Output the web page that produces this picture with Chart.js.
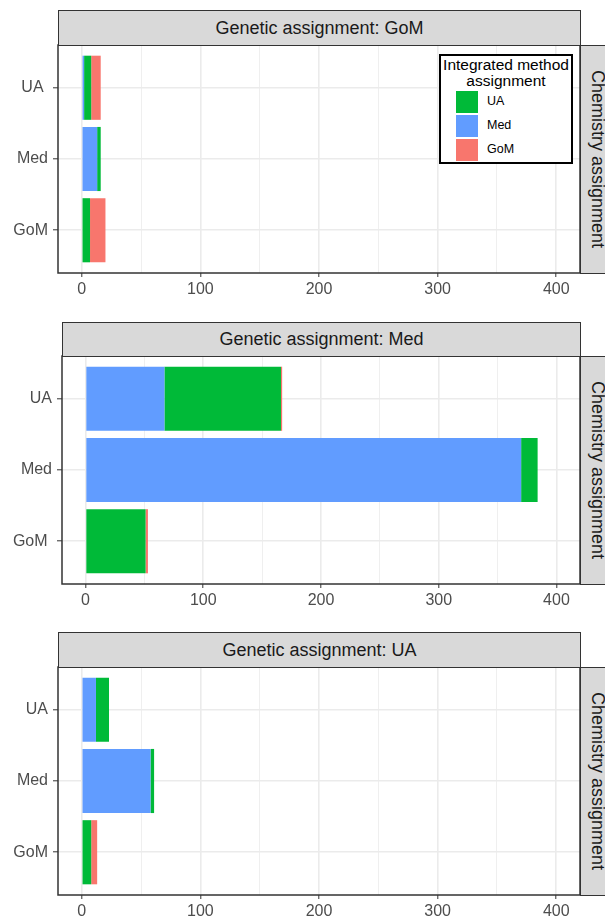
<!DOCTYPE html>
<html>
<head>
<meta charset="utf-8">
<script src="https://cdn.jsdelivr.net/npm/chart.js@4.4.1/dist/chart.umd.min.js"></script>
<style>
  html, body { margin: 0; padding: 0; background: #fff; width: 605px; height: 919px; overflow: hidden; }
  body { position: relative; font-family: "Liberation Sans", Arial, sans-serif; }
  canvas { position: absolute; left: 0; z-index: 1; }
  .strip { position: absolute; box-sizing: border-box; background: #d9d9d9; border: 1px solid #333;
           display: flex; align-items: center; justify-content: center; font-size: 18px; color: #1a1a1a;
           z-index: 2; white-space: nowrap; overflow: hidden; }
  .strip.side span { writing-mode: vertical-rl; }
  .legend { position: absolute; left: 439px; top: 54px; width: 134px; height: 110px; box-sizing: border-box;
            border: 2px solid #000; background: #fff; z-index: 3; }
  .legend .title { position: absolute; left: 0; right: 0; top: 1px; text-align: center; font-size: 15.5px;
                   line-height: 16px; color: #000; }
  .legend .key { position: absolute; left: 15px; width: 22px; height: 21.5px; }
  .legend .lab { position: absolute; left: 46px; font-size: 12.5px; line-height: 21.5px; color: #000; }
</style>
</head>
<body>
<div class="legend" id="legend"><div class="title">Integrated method<br>assignment</div></div>
<script>
// Chemistry assignment categories (rows, top to bottom)
const chemCategories = ['UA', 'Med', 'GoM'];
// Row labels as printed on each panel's axis
const gomPanelLabels = ['UA ', 'Med', 'GoM'];
const medPanelLabels = ['UA', 'Med', 'GoM '];
const uaPanelLabels  = ['UA', 'Med', 'GoM'];

// Integrated method assignment groups, legend order
const integratedGroups = ['UA', 'Med', 'GoM'];
// Stacking order from zero outwards
const stackOrder = ['Med', 'UA', 'GoM'];

// Genetic assignment: GoM  (counts per chemistry row UA, Med, GoM)
const gomPanelMed = [2, 13, 0];
const gomPanelUA  = [6, 3, 7];
const gomPanelGoM = [8, 0, 13];

// Genetic assignment: Med
const medPanelMed = [67, 370, 0];
const medPanelUA  = [99, 14, 51];
const medPanelGoM = [1, 0, 2];

// Genetic assignment: UA
const uaPanelMed = [12, 58, 0];
const uaPanelUA  = [11, 3, 8];
const uaPanelGoM = [0, 0, 5];

// Count axis
const xMajorTicks = [0, 100, 200, 300, 400];
const xMinorGrid  = [50, 150, 250, 350];
const xLimits = [-20, 420];

const COLORS = { UA: '#00BA38', Med: '#619CFF', GoM: '#F8766D' };
const FONT = '"Liberation Sans", Arial, sans-serif';
const W = 605, PAD_TOP = 20, AXIS_H = 34, SIDE_STRIP_W = 34;

const panels = [
  { title: 'Genetic assignment: GoM', labels: gomPanelLabels,
    series: { Med: gomPanelMed, UA: gomPanelUA, GoM: gomPanelGoM },
    stripTop: 10, plotTop: 45, plotBottom: 273, plotLeft: 58, plotRight: 580 },
  { title: 'Genetic assignment: Med', labels: medPanelLabels,
    series: { Med: medPanelMed, UA: medPanelUA, GoM: medPanelGoM },
    stripTop: 322, plotTop: 356, plotBottom: 584, plotLeft: 62, plotRight: 580 },
  { title: 'Genetic assignment: UA', labels: uaPanelLabels,
    series: { Med: uaPanelMed, UA: uaPanelUA, GoM: uaPanelGoM },
    stripTop: 632, plotTop: 667, plotBottom: 895, plotLeft: 58, plotRight: 580 }
];

// outline around the plotting area
const panelFrame = {
  id: 'panelFrame',
  afterDraw(chart) {
    const { ctx, chartArea: a } = chart;
    ctx.save();
    ctx.strokeStyle = '#333';
    ctx.lineWidth = 1.5;
    ctx.strokeRect(a.left, a.top, a.right - a.left, a.bottom - a.top);
    ctx.restore();
  }
};

const isMajor = v => xMajorTicks.includes(Math.round(v));

function addStrips(p) {
  const top = document.createElement('div');
  top.className = 'strip';
  Object.assign(top.style, {
    left: p.plotLeft + 'px', top: p.stripTop + 'px',
    width: (p.plotRight - p.plotLeft + 1) + 'px', height: (p.plotTop - p.stripTop + 1) + 'px'
  });
  top.textContent = p.title;
  document.body.appendChild(top);

  const side = document.createElement('div');
  side.className = 'strip side';
  Object.assign(side.style, {
    left: p.plotRight + 'px', top: p.plotTop + 'px',
    width: SIDE_STRIP_W + 'px', height: (p.plotBottom - p.plotTop + 1) + 'px'
  });
  const s = document.createElement('span');
  s.textContent = 'Chemistry assignment';
  side.appendChild(s);
  document.body.appendChild(side);
}

function makePanel(p) {
  const canvas = document.createElement('canvas');
  const h = PAD_TOP + (p.plotBottom - p.plotTop) + AXIS_H;
  canvas.width = W; canvas.height = h;
  canvas.style.width = W + 'px'; canvas.style.height = h + 'px';
  canvas.style.top = (p.plotTop - PAD_TOP) + 'px';
  document.body.appendChild(canvas);

  const datasets = stackOrder.map(g => ({
    label: g,
    data: p.series[g].map((v, i) => ({ x: v, y: i + 1 })),
    backgroundColor: COLORS[g],
    borderWidth: 0,
    barPercentage: 0.9,
    categoryPercentage: 1
  }));

  new Chart(canvas, {
    type: 'bar',
    data: { datasets },
    options: {
      indexAxis: 'y',
      responsive: false,
      animation: false,
      devicePixelRatio: 1,
      layout: { padding: { top: PAD_TOP, right: W - p.plotRight, left: 0, bottom: 0 } },
      plugins: { legend: { display: false }, tooltip: { enabled: false } },
      scales: {
        x: {
          type: 'linear', stacked: true, min: xLimits[0], max: xLimits[1],
          afterBuildTicks: s => { s.ticks = xMajorTicks.concat(xMinorGrid).sort((a, b) => a - b).map(v => ({ value: v })); },
          afterFit: s => { s.height = AXIS_H; },
          ticks: {
            autoSkip: false, maxRotation: 0, minRotation: 0, padding: 3, color: '#4d4d4d',
            font: { family: FONT, size: 16 },
            callback: v => isMajor(v) ? String(Math.round(v)) : ''
          },
          grid: {
            color: '#ebebeb',
            lineWidth: c => (c.tick && isMajor(c.tick.value)) ? 1.6 : 0.8,
            tickColor: c => (c.tick && isMajor(c.tick.value)) ? '#333' : 'rgba(0,0,0,0)',
            tickLength: 4, tickWidth: 1
          },
          border: { display: false }
        },
        y: {
          type: 'linear', stacked: true, reverse: true, min: 0.4, max: 3.6, offset: false,
          afterBuildTicks: s => { s.ticks = chemCategories.map((c, i) => ({ value: i + 1 })); },
          afterFit: s => { s.width = p.plotLeft; },
          ticks: {
            padding: 5, color: '#4d4d4d', font: { family: FONT, size: 16 },
            callback: v => p.labels[Math.round(v) - 1]
          },
          grid: { offset: false, color: '#ebebeb', lineWidth: 1.6, tickColor: '#333', tickLength: 5, tickWidth: 1 },
          border: { display: false }
        }
      }
    },
    plugins: [panelFrame]
  });
}

panels.forEach(p => { makePanel(p); addStrips(p); });

// legend for the integrated method assignment
const legend = document.getElementById('legend');
const keyTops = [35, 59, 83];
integratedGroups.forEach((g, i) => {
  const k = document.createElement('div');
  k.className = 'key';
  k.style.top = keyTops[i] + 'px';
  k.style.background = COLORS[g];
  legend.appendChild(k);
  const l = document.createElement('div');
  l.className = 'lab';
  l.style.top = keyTops[i] + 'px';
  l.textContent = g;
  legend.appendChild(l);
});
</script>
</body>
</html>
